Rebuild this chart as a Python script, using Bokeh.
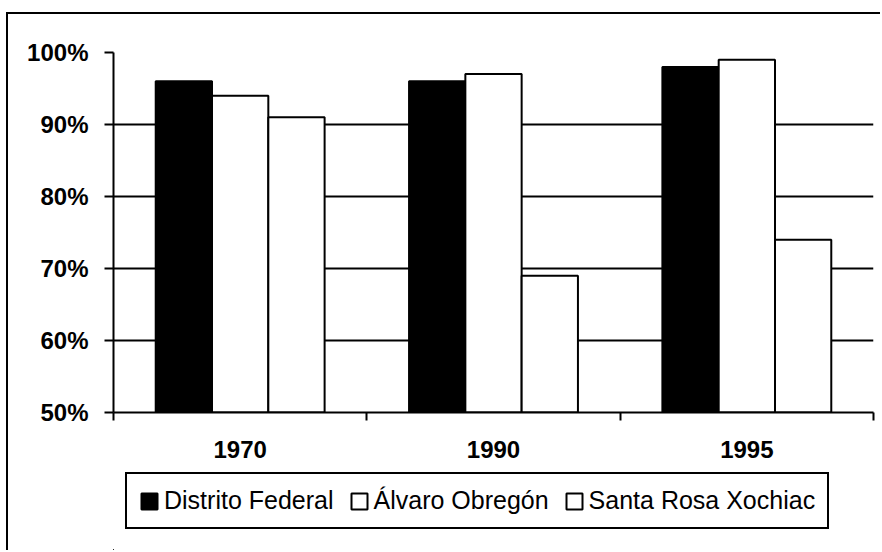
from bokeh.plotting import figure
from bokeh.layouts import column
from bokeh.models import (ColumnDataSource, Range1d, FixedTicker, NumeralTickFormatter,
                          Legend, LegendItem)
from bokeh.transform import dodge
from bokeh.embed import file_html
from bokeh.resources import INLINE

# Share of the population per year and area
years = ["1970", "1990", "1995"]
distrito_federal = [0.96, 0.96, 0.98]
alvaro_obregon = [0.94, 0.97, 0.99]
santa_rosa_xochiac = [0.91, 0.69, 0.74]

series_names = ["Distrito Federal", "Álvaro Obregón", "Santa Rosa Xochiac"]
y_ticks = [0.5, 0.6, 0.7, 0.8, 0.9, 1.0]

FONT = "Liberation Sans"

centers = [i + 0.5 for i in range(len(years))]
source = ColumnDataSource(data=dict(
    x=centers,
    df=distrito_federal,
    ao=alvaro_obregon,
    sr=santa_rosa_xochiac,
))

bar_w = 1 / 4.5
series_style = (("df", "black", -bar_w), ("ao", "white", 0.0), ("sr", "white", bar_w))

# main chart; its left and top borders form the outer frame
p = figure(width=874, height=456, output_backend="svg", toolbar_location=None,
           x_range=Range1d(0, len(years)), y_range=Range1d(0.5, 1.0),
           min_border_left=105, min_border_right=9, min_border_top=38,
           min_border_bottom=58, background_fill_color="white",
           border_fill_color="white", outline_line_color=None,
           styles={"margin-left": "6px", "margin-top": "12px",
                   "border-left": "2px solid black", "border-top": "2px solid black"})

for col, fill, off in series_style:
    p.vbar(x=dodge("x", off, range=p.x_range), top=col, bottom=0.5, width=bar_w,
           source=source, fill_color=fill, line_color="black", line_width=2)

# x axis: category labels at the centres, ticks at the boundaries
xa = p.xaxis[0]
xa.ticker = FixedTicker(ticks=centers, minor_ticks=list(range(len(years) + 1)))
xa.major_label_overrides = {c: y for c, y in zip(centers, years)}
xa.major_tick_line_color = None
xa.major_tick_out = 0
xa.major_tick_in = 0
xa.minor_tick_out = 8
xa.minor_tick_in = 0
xa.minor_tick_line_width = 2
xa.minor_tick_line_color = "black"
xa.axis_line_width = 2
xa.axis_line_color = "black"
xa.major_label_standoff = 20
xa.major_label_text_font = FONT
xa.major_label_text_font_style = "bold"
xa.major_label_text_font_size = "24px"
xa.major_label_text_color = "black"

ya = p.yaxis[0]
ya.ticker = FixedTicker(ticks=y_ticks)
ya.formatter = NumeralTickFormatter(format="0%")
ya.major_tick_out = 9
ya.major_tick_in = 0
ya.major_tick_line_width = 2
ya.minor_tick_line_color = None
ya.axis_line_width = 2
ya.axis_line_color = "black"
ya.major_label_standoff = 16
ya.major_label_text_font = FONT
ya.major_label_text_font_style = "bold"
ya.major_label_text_font_size = "24px"
ya.major_label_text_color = "black"

p.xgrid.visible = False
p.ygrid.ticker = FixedTicker(ticks=y_ticks[1:-1])
p.ygrid.grid_line_color = "black"
p.ygrid.grid_line_width = 2
p.ygrid.grid_line_alpha = 1.0

# legend strip under the chart; its swatch renderers lie outside its visible ranges
lg = figure(width=874, height=82, output_backend="svg", toolbar_location=None,
            x_range=Range1d(3.5, 4.5), y_range=Range1d(1.5, 2.5),
            x_axis_location=None, y_axis_location=None,
            min_border=0, background_fill_color="white",
            border_fill_color="white", outline_line_color=None,
            styles={"margin-left": "6px", "border-left": "2px solid black"})
lg.grid.visible = False

swatches = []
for col, fill, off in series_style:
    r = lg.vbar(x=dodge("x", off, range=lg.x_range), top=col, bottom=0.5, width=bar_w,
                source=source, fill_color=fill, line_color="black", line_width=2)
    swatches.append(r)

legend = Legend(
    items=[LegendItem(label=n, renderers=[r]) for n, r in zip(series_names, swatches)],
    location=(12, 21), orientation="horizontal",
    border_line_color="black", border_line_width=2, border_line_alpha=1.0,
    background_fill_color="white", background_fill_alpha=1.0,
    padding=12, spacing=15, glyph_width=20, glyph_height=20, label_standoff=5,
    label_text_font=FONT, label_text_font_size="25px", label_text_color="black",
    margin=0,
)
lg.add_layout(legend, "center")

open("out.html", "w").write(file_html(column(p, lg, spacing=0), INLINE))
